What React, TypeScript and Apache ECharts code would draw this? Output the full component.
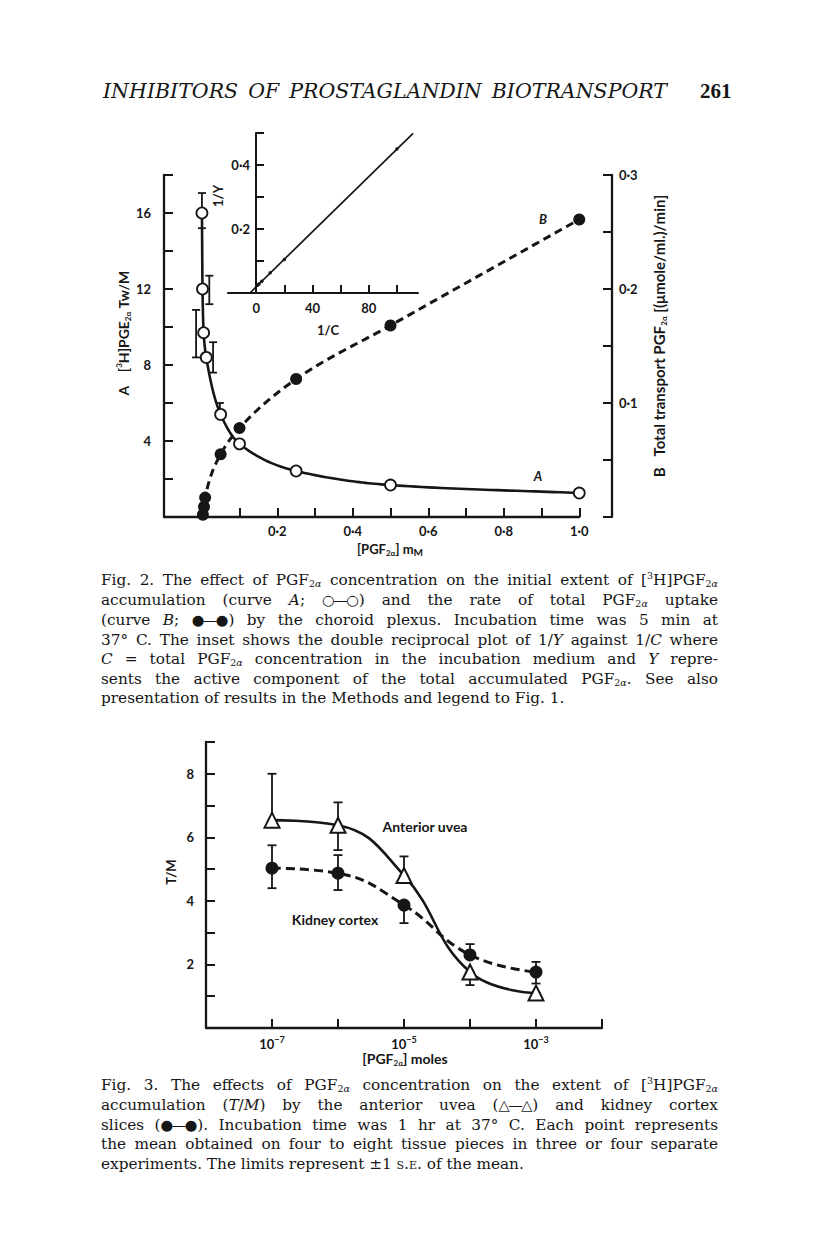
import React, { useEffect, useRef } from "react";
import * as echarts from "echarts";

// ---------- Fig. 2 data ----------
const fig2AX = [0.0005, 0.002, 0.005, 0.012, 0.05, 0.1, 0.25, 0.5, 1.0];
const fig2AY = [16.0, 12.0, 9.7, 8.4, 5.4, 3.85, 2.42, 1.68, 1.26];
const fig2AErrX = [0.0005, 0.02, -0.015, 0.03, 0.048];
const fig2AErrLo = [15.2, 11.2, 8.4, 7.6, 5.4];
const fig2AErrHi = [17.05, 12.7, 10.9, 9.2, 6.0];
const fig2BX = [0.003, 0.006, 0.009, 0.05, 0.1, 0.25, 0.5, 1.0];
const fig2BY = [0.002, 0.009, 0.017, 0.055, 0.078, 0.121, 0.168, 0.261];
const fig2XLabels = [0.2, 0.4, 0.6, 0.8, 1.0];
const fig2LeftLabels = [4, 8, 12, 16];
const fig2RightLabels = [0.1, 0.2, 0.3];

// ---------- inset (double reciprocal) ----------
const insetInvC = [1, 2, 4, 10, 20, 100];
const insetInvY = [0.024, 0.028, 0.037, 0.063, 0.105, 0.45];
const insetFitX = [-4.5, 111.5];
const insetFitY = [0, 0.499];
const insetXTicks = [0, 20, 40, 60, 80, 100];
const insetXLabels = [0, 40, 80];
const insetYLabels = [0.2, 0.4];

// ---------- Fig. 3 data ----------
const fig3LogC = [-7, -6, -5, -4, -3];
const uveaTM = [6.54, 6.38, 4.8, 1.76, 1.1];
const uveaLo = [6.54, 5.6, 4.8, 1.35, 1.1];
const uveaHi = [8.0, 7.1, 5.4, 1.76, 1.1];
const kidneyTM = [5.03, 4.87, 3.87, 2.3, 1.76];
const kidneyLo = [4.4, 4.34, 3.3, 2.3, 1.4];
const kidneyHi = [5.75, 5.44, 3.87, 2.64, 2.08];
const fig3XLabels: Record<string, string> = { "-7": "−7", "-5": "−5", "-3": "−3" };
const fig3YLabels = [2, 4, 6, 8];

const INK = "#161616";
const FONT = "Lato, 'Open Sans', sans-serif";
const SERIF = "'DejaVu Serif', 'Liberation Serif', serif";

const zip = (...arrs: number[][]) => arrs[0].map((_, i) => arrs.map((a) => a[i]));
const dot = (v: number) => v.toFixed(1).replace(".", "·");
const near = (v: number, list: number[]) => list.some((l) => Math.abs(l - v) < 1e-6);

const axisLine = { show: true, onZero: false, lineStyle: { color: INK, width: 2.3 } };
const tick = (len: number) => ({ show: true, inside: true, length: len, lineStyle: { color: INK, width: 2 } });
const lbl = { color: INK, fontFamily: FONT, fontWeight: "bold" as const, fontSize: 13 };

// Monotone cubic (PCHIP) rendering of a curve through the data points
function pchipPath(xs: number[], ys: number[], perSeg = 30): number[][] {
  const n = xs.length;
  const d: number[] = [];
  const m: number[] = [];
  for (let i = 0; i < n - 1; i++) d[i] = (ys[i + 1] - ys[i]) / (xs[i + 1] - xs[i]);
  m[0] = d[0];
  m[n - 1] = d[n - 2];
  for (let i = 1; i < n - 1; i++) {
    if (d[i - 1] * d[i] <= 0) m[i] = 0;
    else {
      const h0 = xs[i] - xs[i - 1];
      const h1 = xs[i + 1] - xs[i];
      const w1 = 2 * h1 + h0;
      const w2 = h1 + 2 * h0;
      m[i] = (w1 + w2) / (w1 / d[i - 1] + w2 / d[i]);
    }
  }
  const out: number[][] = [];
  for (let i = 0; i < n - 1; i++) {
    const h = xs[i + 1] - xs[i];
    for (let k = 0; k <= perSeg; k++) {
      if (i > 0 && k === 0) continue;
      const t = k / perSeg;
      const t2 = t * t;
      const t3 = t2 * t;
      const y =
        (2 * t3 - 3 * t2 + 1) * ys[i] +
        (t3 - 2 * t2 + t) * h * m[i] +
        (-2 * t3 + 3 * t2) * ys[i + 1] +
        (t3 - t2) * h * m[i + 1];
      out.push([xs[i] + t * h, y]);
    }
  }
  return out;
}

function curveRender(xs: number[], ys: number[], width: number, dash?: number[]) {
  const pts = pchipPath(xs, ys);
  return (params: any, api: any) => {
    if (params.dataIndex !== 0) return null;
    return {
      type: "polyline",
      shape: { points: pts.map((p) => api.coord(p)) },
      style: { stroke: INK, lineWidth: width, fill: "none", lineDash: dash || null },
    };
  };
}

function errRender(capW: number) {
  return (params: any, api: any) => {
    const x = api.value(0);
    const a = api.coord([x, api.value(1)]);
    const b = api.coord([x, api.value(2)]);
    const style = { stroke: INK, lineWidth: 1.8 };
    return {
      type: "group",
      children: [
        { type: "line", shape: { x1: a[0], y1: a[1], x2: b[0], y2: b[1] }, style },
        { type: "line", shape: { x1: a[0] - capW, y1: a[1], x2: a[0] + capW, y2: a[1] }, style },
        { type: "line", shape: { x1: b[0] - capW, y1: b[1], x2: b[0] + capW, y2: b[1] }, style },
      ],
    };
  };
}

const richBase = {
  b: { fontFamily: FONT, fontWeight: "bold", fontSize: 13, fill: INK, lineHeight: 16 },
  B: { fontFamily: FONT, fontWeight: "bold", fontSize: 14, fill: INK, lineHeight: 17 },
  R: { fontFamily: FONT, fontWeight: "bold", fontSize: 15, fill: INK, lineHeight: 18 },
  bi: { fontFamily: FONT, fontWeight: "bold", fontStyle: "italic", fontSize: 13, fill: INK, lineHeight: 16 },
  s: { fontFamily: FONT, fontWeight: "bold", fontSize: 8, fill: INK, lineHeight: 10, verticalAlign: "bottom" },
  u: { fontFamily: FONT, fontWeight: "bold", fontSize: 8, fill: INK, lineHeight: 10, verticalAlign: "top" },
  m: { fontFamily: FONT, fontWeight: "bold", fontSize: 10, fill: INK, lineHeight: 16, verticalAlign: "bottom" },
};

function gtext(x: number, y: number, text: string, rotation = 0, extra: any = {}) {
  return {
    type: "text",
    x,
    y,
    rotation,
    style: { text, rich: richBase, align: "center", verticalAlign: "middle", fill: INK, ...extra },
  };
}

// Grid geometry (layout only)
const G2_LEFT = 164;
const G2_TOP = 175;
const G2_H = 342;
const G2_PX = 377.5; // px per x unit
const G2_RIGHT_AXIS = 612;
const G2_XMAX = -0.1 + (G2_RIGHT_AXIS - G2_LEFT) / G2_PX;

function Chart() {
  const ref = useRef<HTMLDivElement>(null);
  useEffect(() => {
    if (!ref.current) return;
    const chart = echarts.init(ref.current, undefined, { renderer: "svg" });
    const option: any = {
      animation: false,
      backgroundColor: "transparent",
      grid: [
        { left: G2_LEFT, top: G2_TOP, width: G2_RIGHT_AXIS - G2_LEFT, height: G2_H },
        { left: 228, top: 133, width: 190, height: 160 },
        { left: 206, top: 742, width: 396, height: 286 },
        { left: G2_LEFT, top: G2_TOP, width: 1.1 * G2_PX, height: G2_H },
        { left: 256, top: 133, width: 162, height: 160 },
      ],
      xAxis: [
        { gridIndex: 0, type: "value", min: -0.1, max: G2_XMAX, show: false },
        {
          gridIndex: 3, type: "value", min: -0.1, max: 1.0, interval: 0.1,
          axisLine, axisTick: tick(9), splitLine: { show: false },
          axisLabel: { ...lbl, margin: 7, formatter: (v: number) => (near(v, fig2XLabels) ? dot(v) : "") },
        },
        {
          gridIndex: 1, type: "value", min: -20, max: 115, interval: 20,
          axisLine: { ...axisLine, lineStyle: { color: INK, width: 2 } },
          axisTick: { ...tick(8), customValues: insetXTicks },
          splitLine: { show: false },
          axisLabel: { ...lbl, margin: 8, customValues: insetXLabels, formatter: (v: number) => (near(v, insetXLabels) ? String(Math.round(v)) : "") },
        },
        {
          gridIndex: 2, type: "value", min: -8, max: -2, interval: 1,
          axisLine, axisTick: tick(9), splitLine: { show: false },
          axisLabel: {
            ...lbl, margin: 7,
            formatter: (v: number) => {
              const e = fig3XLabels[String(Math.round(v))];
              return e ? `{b|10}{u|${e}}` : "";
            },
            rich: {
              b: { fontFamily: FONT, fontWeight: "bold", fontSize: 13, color: INK, lineHeight: 17 },
              u: { fontFamily: FONT, fontWeight: "bold", fontSize: 9, color: INK, lineHeight: 11, verticalAlign: "top" },
            },
          },
        },
        { gridIndex: 4, type: "value", min: 0, max: 1, show: false },
      ],
      yAxis: [
        {
          gridIndex: 0, type: "value", min: 0, max: 18, interval: 2, position: "left",
          axisLine, axisTick: tick(9), splitLine: { show: false },
          axisLabel: { ...lbl, margin: 13, formatter: (v: number) => (near(v, fig2LeftLabels) ? String(v) : "") },
        },
        {
          gridIndex: 0, type: "value", min: 0, max: 0.3, interval: 0.05, position: "right",
          axisLine, axisTick: tick(9), splitLine: { show: false },
          axisLabel: { ...lbl, margin: 7, formatter: (v: number) => (near(v, fig2RightLabels) ? dot(v) : "") },
        },
        { gridIndex: 1, type: "value", min: 0, max: 0.5, show: false },
        {
          gridIndex: 2, type: "value", min: 0, max: 9, interval: 1,
          axisLine, axisTick: tick(9), splitLine: { show: false },
          axisLabel: { ...lbl, margin: 12, formatter: (v: number) => (near(v, fig3YLabels) ? String(v) : "") },
        },
        { gridIndex: 3, type: "value", min: 0, max: 18, show: false },
        {
          gridIndex: 4, type: "value", min: 0, max: 0.5, interval: 0.1, position: "left",
          axisLine: { show: true, onZero: false, lineStyle: { color: INK, width: 2 } },
          axisTick: tick(8), splitLine: { show: false },
          axisLabel: { ...lbl, margin: 6, formatter: (v: number) => (near(v, insetYLabels) ? dot(v) : "") },
        },
      ],
      series: [
        {
          type: "custom", coordinateSystem: "cartesian2d", xAxisIndex: 0, yAxisIndex: 0, z: 1,
          renderItem: errRender(4), encode: { x: 0, y: [1, 2] },
          data: zip(fig2AErrX, fig2AErrLo, fig2AErrHi),
        },
        {
          type: "custom", coordinateSystem: "cartesian2d", xAxisIndex: 0, yAxisIndex: 0, z: 2,
          renderItem: curveRender(fig2AX, fig2AY, 2.6), encode: { x: 0, y: 1 },
          data: zip(fig2AX, fig2AY),
        },
        {
          type: "scatter", xAxisIndex: 0, yAxisIndex: 0, z: 3, symbol: "circle", symbolSize: 11,
          data: zip(fig2AX, fig2AY),
          itemStyle: { color: "#fff", borderColor: INK, borderWidth: 1.8, opacity: 1 },
        },
        {
          type: "custom", coordinateSystem: "cartesian2d", xAxisIndex: 0, yAxisIndex: 1, z: 2,
          renderItem: curveRender(fig2BX, fig2BY, 3, [8, 5]), encode: { x: 0, y: 1 },
          data: zip(fig2BX, fig2BY),
        },
        {
          type: "scatter", xAxisIndex: 0, yAxisIndex: 1, z: 3, symbol: "circle", symbolSize: 12,
          data: zip(fig2BX, fig2BY), itemStyle: { color: INK, opacity: 1 },
        },
        {
          type: "line", xAxisIndex: 2, yAxisIndex: 2, z: 3, showSymbol: false, symbol: "none",
          data: zip(insetFitX, insetFitY), lineStyle: { color: INK, width: 1.7 },
        },
        {
          type: "scatter", xAxisIndex: 2, yAxisIndex: 2, z: 4, symbolSize: 3.5,
          data: zip(insetInvC, insetInvY), itemStyle: { color: INK, opacity: 1 },
        },
        {
          type: "custom", coordinateSystem: "cartesian2d", xAxisIndex: 3, yAxisIndex: 3, z: 1,
          renderItem: errRender(4.5), encode: { x: 0, y: [1, 2] },
          data: zip(fig3LogC, uveaLo, uveaHi),
        },
        {
          type: "custom", coordinateSystem: "cartesian2d", xAxisIndex: 3, yAxisIndex: 3, z: 1,
          renderItem: errRender(4.5), encode: { x: 0, y: [1, 2] },
          data: zip(fig3LogC, kidneyLo, kidneyHi),
        },
        {
          type: "line", xAxisIndex: 3, yAxisIndex: 3, z: 3, smooth: 0.45,
          data: zip(fig3LogC, kidneyTM), symbol: "circle", symbolSize: 13,
          itemStyle: { color: INK, borderWidth: 0 },
          lineStyle: { color: INK, width: 3, type: [9, 5] },
        },
        {
          type: "line", xAxisIndex: 3, yAxisIndex: 3, z: 4, smooth: 0.45,
          data: zip(fig3LogC, uveaTM), symbol: "triangle", symbolSize: 15,
          itemStyle: { color: "#fff", borderColor: INK, borderWidth: 2 },
          lineStyle: { color: INK, width: 2.6 },
        },
      ],
      graphic: [
        gtext(390, 549, "{b|[PGF}{s|2α}{b|] m}{m|M}"),
        gtext(123, 333, "{B|A}{B|    [}{u|3}{B|H]PGE}{s|2α}{B| Tw/M}", Math.PI / 2),
        gtext(659, 336, "{R|B}{R|   Total transport PGF}{s|2α}{R| [(μmole/ml.)/min]}", Math.PI / 2),
        gtext(543, 219, "{bi|B}"),
        gtext(538, 476, "{bi|A}"),
        gtext(218, 196, "{b|1/Y}", Math.PI / 2),
        gtext(328, 330, "{b|1/C}"),
        gtext(425, 826, "{B|Anterior uvea}"),
        gtext(335, 919, "{B|Kidney cortex}"),
        gtext(171, 872, "{b|T/M}", Math.PI / 2),
        gtext(405, 1058, "{B|[PGF}{s|2α}{B|] moles}"),
      ],
    };
    chart.setOption(option);
    return () => chart.dispose();
  }, []);
  return <div ref={ref} style={{ position: "absolute", left: 0, top: 0, width: 816, height: 1243 }} />;
}

const sub = (t: string) => (
  <sub style={{ fontSize: "9.5px", verticalAlign: "-2px", lineHeight: 0 }}>{t}</sub>
);
const sup = (t: string) => (
  <sup style={{ fontSize: "9.5px", verticalAlign: "6px", lineHeight: 0 }}>{t}</sup>
);
const PGF = () => (
  <>
    PGF{sub("2")}
    <sub style={{ fontSize: "9.5px", verticalAlign: "-2px", lineHeight: 0, fontStyle: "italic" }}>α</sub>
  </>
);
const Sym = ({ t }: { t: string }) => (
  <span style={{ display: "inline-block", fontSize: "14.5px", letterSpacing: "-1.5px", paddingRight: "1.5px" }}>{t}</span>
);

function CapLine({ top, children, last }: { top: number; children: React.ReactNode; last?: boolean }) {
  return (
    <div
      style={{
        position: "absolute",
        left: 101,
        top: top - 10,
        width: 617,
        height: 20,
        lineHeight: "20px",
        fontFamily: SERIF,
        fontSize: "15.3px",
        color: INK,
        textAlign: last ? "left" : "justify",
        textAlignLast: last ? "left" : "justify",
        textJustify: "inter-word",
        whiteSpace: "nowrap",
      } as any}
    >
      {children}
    </div>
  );
}

export default function App() {
  const fig2Tops = [580, 600, 620, 640, 659, 679, 698];
  const fig3Tops = [1085, 1105, 1125, 1144, 1164];
  return (
    <div style={{ position: "absolute", left: 0, top: 0, width: 816, height: 1243, background: "#fff", overflow: "hidden" }}>
      <div
        style={{
          position: "absolute", left: 103, top: 78, width: 564, height: 26, lineHeight: "26px",
          fontFamily: SERIF, fontStyle: "italic", fontSize: "20.5px", color: INK,
          textAlign: "justify", textAlignLast: "justify", whiteSpace: "nowrap",
        } as any}
      >
        INHIBITORS OF PROSTAGLANDIN BIOTRANSPORT
      </div>
      <div
        style={{
          position: "absolute", left: 700, top: 78, height: 26, lineHeight: "26px",
          fontFamily: "'Liberation Serif', serif", fontWeight: "bold", fontSize: "21px", color: INK,
        }}
      >
        261
      </div>
      <Chart />
      <CapLine top={fig2Tops[0]}>
        Fig. 2. The effect of <PGF /> concentration on the initial extent of [{sup("3")}H]<PGF />
      </CapLine>
      <CapLine top={fig2Tops[1]}>
        accumulation (curve <i>A</i>; <Sym t="○—○" />) and the rate of total <PGF /> uptake
      </CapLine>
      <CapLine top={fig2Tops[2]}>
        (curve <i>B</i>; <Sym t="●—●" />) by the choroid plexus. Incubation time was 5 min at
      </CapLine>
      <CapLine top={fig2Tops[3]}>
        37° C. The inset shows the double reciprocal plot of 1/<i>Y</i> against 1/<i>C</i> where
      </CapLine>
      <CapLine top={fig2Tops[4]}>
        <i>C</i> = total <PGF /> concentration in the incubation medium and <i>Y</i> repre-
      </CapLine>
      <CapLine top={fig2Tops[5]}>
        sents the active component of the total accumulated <PGF />. See also
      </CapLine>
      <CapLine top={fig2Tops[6]} last>
        presentation of results in the Methods and legend to Fig. 1.
      </CapLine>

      <CapLine top={fig3Tops[0]}>
        Fig. 3. The effects of <PGF /> concentration on the extent of [{sup("3")}H]<PGF />
      </CapLine>
      <CapLine top={fig3Tops[1]}>
        accumulation (<i>T</i>/<i>M</i>) by the anterior uvea (<Sym t="△—△" />) and kidney cortex
      </CapLine>
      <CapLine top={fig3Tops[2]}>
        slices (<Sym t="●—●" />). Incubation time was 1 hr at 37° C. Each point represents
      </CapLine>
      <CapLine top={fig3Tops[3]}>
        the mean obtained on four to eight tissue pieces in three or four separate
      </CapLine>
      <CapLine top={fig3Tops[4]} last>
        experiments. The limits represent  ±1 <span style={{ fontVariant: "small-caps" }}>s.e.</span> of the mean.
      </CapLine>
    </div>
  );
}
